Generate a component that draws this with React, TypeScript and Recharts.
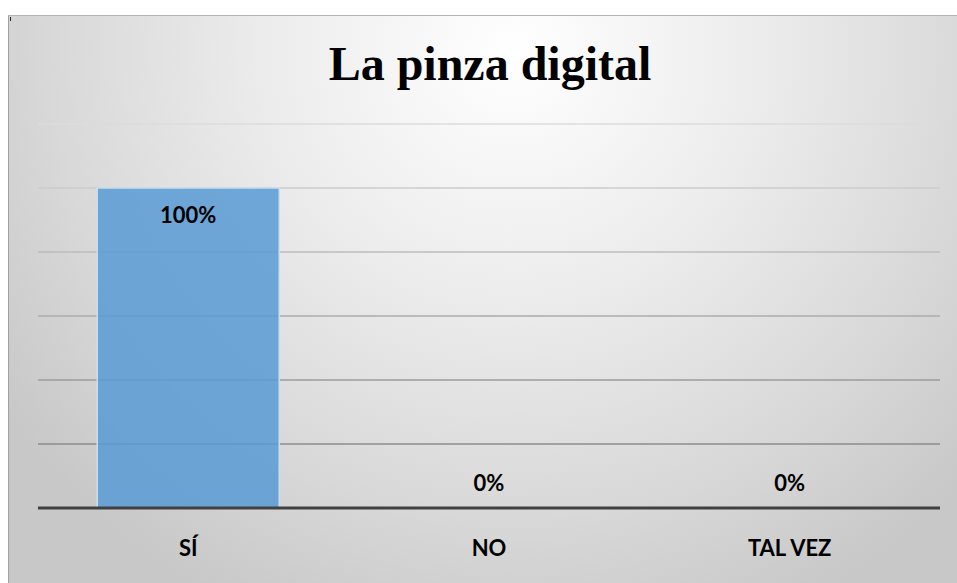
import React from "react";
import { ComposedChart, Bar, Line, XAxis, YAxis, CartesianGrid, LabelList } from "recharts";

const categories = ["SÍ", "NO", "TAL VEZ"];
const percentValues = [100, 0, 0];
const yTicks = [0, 20, 40, 60, 80, 100, 120];
const chartTitle = "La pinza digital";

const data = categories.map((c, i) => ({ name: c, value: percentValues[i] }));

const LABEL_FONT = "Lato, 'Open Sans', sans-serif";

const BarValueLabel = (props: any) => {
  const { x, y, width, value } = props;
  if (!(value > 0)) return null;
  return (
    <text x={x + width / 2} y={y + 35} textAnchor="middle" fontFamily={LABEL_FONT} fontWeight={700} fontSize={22} fill="#000">
      {`${value}%`}
    </text>
  );
};

const ZeroValueLabel = (props: any) => {
  const { x, y, value } = props;
  if (value !== 0) return null;
  return (
    <text x={x} y={y - 17} textAnchor="middle" fontFamily={LABEL_FONT} fontWeight={700} fontSize={22} fill="#000">
      {`${value}%`}
    </text>
  );
};

const CatTick = (props: any) => {
  const { x, y, payload } = props;
  return (
    <text x={x} y={y + 40} textAnchor="middle" fontFamily={LABEL_FONT} fontWeight={700} fontSize={22} fill="#000">
      {payload.value}
    </text>
  );
};

export default function App() {
  return (
    <div style={{ position: "fixed", left: 0, top: 0, width: 957, height: 583, background: "#fff", overflow: "hidden" }}>
      <div
        style={{
          position: "absolute",
          left: 8,
          top: 15,
          width: 970,
          height: 567,
          borderLeft: "1px solid #a0a0a0",
          borderTop: "1px solid #b4b4b4",
          borderBottom: "1px solid #a0a0a0",
          background: "radial-gradient(ellipse 64% 110% at 52% 6%, #ffffff 0%, #ececec 40%, #d8d8d8 75%, #c8c8c8 100%)",
        }}
      />
      <div style={{ position: "absolute", left: 10, top: 17, width: 1, height: 4, background: "#222" }} />
      <div
        style={{
          position: "absolute",
          left: 0,
          top: 36,
          width: 980,
          textAlign: "center",
          fontFamily: "'Liberation Serif', 'Times New Roman', serif",
          fontWeight: 700,
          fontSize: 48,
          lineHeight: "56px",
          color: "#000",
        }}
      >
        {chartTitle}
      </div>
      <div style={{ position: "absolute", left: 0, top: 0 }}>
        <ComposedChart width={957} height={583} data={data} margin={{ top: 124, left: 38, right: 17, bottom: 0 }} barCategoryGap="19.7%">
          <defs>
            <linearGradient id="gridGrad" gradientUnits="userSpaceOnUse" x1="0" y1="124" x2="0" y2="444">
              <stop offset="0%" stopColor="#dcdcdc" />
              <stop offset="100%" stopColor="#8c8c8c" />
            </linearGradient>
          </defs>
          <CartesianGrid vertical={false} stroke="url(#gridGrad)" strokeWidth={1.6} />
          <YAxis hide domain={[0, 120]} ticks={yTicks} width={0} />
          <XAxis
            dataKey="name"
            height={75}
            axisLine={{ stroke: "#404040", strokeWidth: 3 }}
            tickLine={false}
            tick={<CatTick />}
          />
          <Bar dataKey="value" fill="#5b9bd5" fillOpacity={0.86} stroke="#c9def0" strokeWidth={1.5} isAnimationActive={false}>
            <LabelList dataKey="value" content={<BarValueLabel />} />
          </Bar>
          <Line dataKey="value" stroke="none" dot={false} activeDot={false} isAnimationActive={false}>
            <LabelList dataKey="value" content={<ZeroValueLabel />} />
          </Line>
        </ComposedChart>
      </div>
    </div>
  );
}
